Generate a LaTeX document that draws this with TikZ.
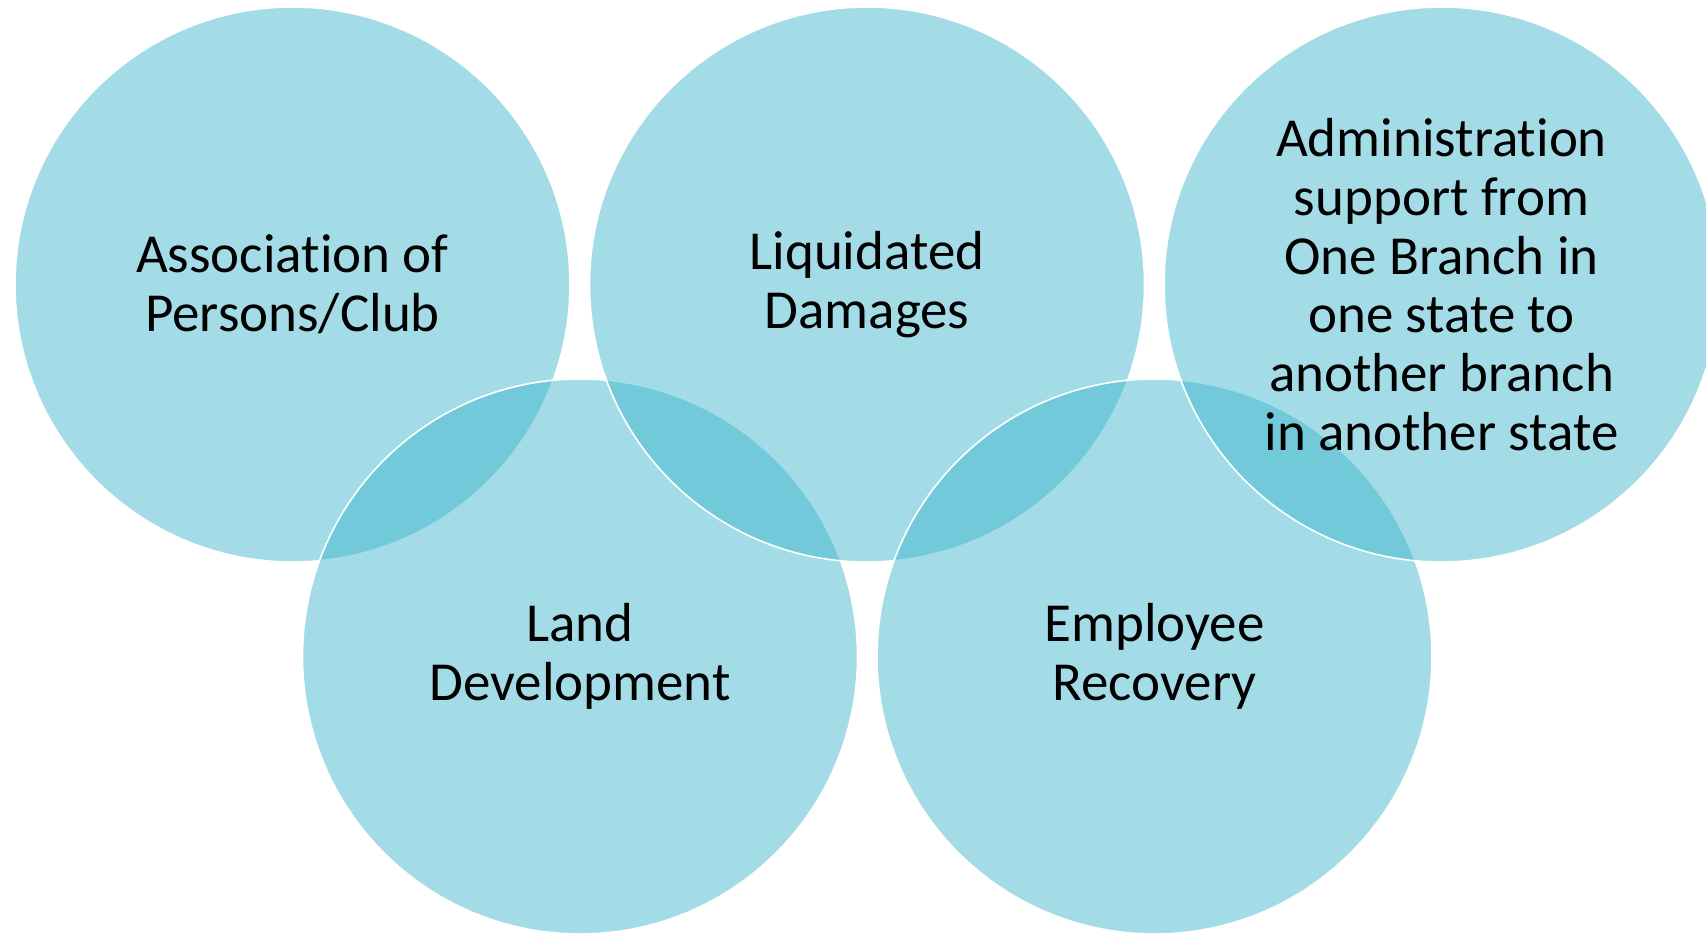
\documentclass[tikz,border=0pt]{standalone}
\usepackage{fontspec}
\setmainfont{Carlito}[RawFeature=-liga]
\definecolor{ringblue}{RGB}{54,179,203}
\tikzset{
  ring/.style={circle, draw=white, line width=1.6pt, fill=ringblue, fill opacity=0.46,
    draw opacity=1, minimum size=555pt, inner sep=0pt, outer sep=0pt},
  label/.style={align=center, text=black, inner sep=0pt,
    font=\fontsize{55}{58.7}\selectfont}
}
\begin{document}
\begin{tikzpicture}[x=1pt,y=-1pt]
\useasboundingbox (0,0) rectangle (1706,933);
\node[ring] (c1) at (292.5,284.5) {};
\node[ring] (c4) at (580,656.5) {};
\node[ring] (c2) at (867,284.5) {};
\node[ring] (c5) at (1154.5,656.5) {};
\node[ring] (c3) at (1441.5,284.5) {};
\node[label] (t1) at (c1.center) {Association of\\Persons/Club};
\node[label] (t2) at (c2.center) {Liquidated\\Damages};
\node[label] (t3) at (c3.center) {Administration\\support from\\One Branch in\\one state to\\another branch\\in another state};
\node[label] (t4) at (c4.center) {Land\\Development};
\node[label] (t5) at (c5.center) {Employee\\Recovery};
\end{tikzpicture}
\end{document}
